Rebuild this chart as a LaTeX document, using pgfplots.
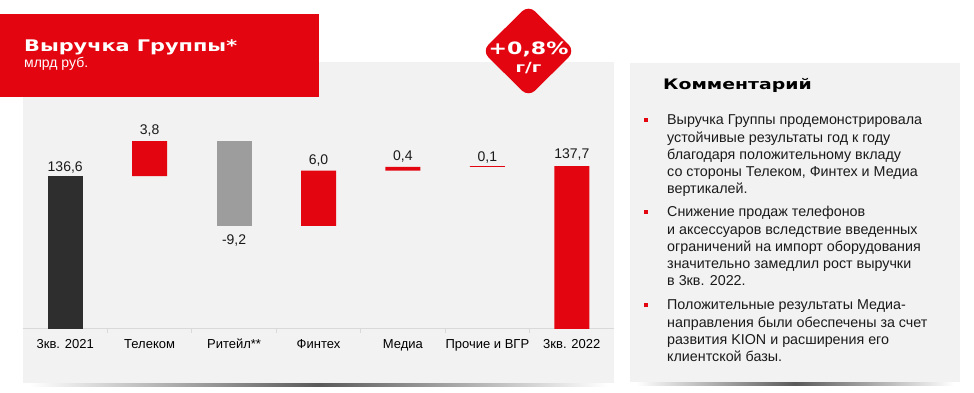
\documentclass[border=0pt]{standalone}
\usepackage{pgfplots}
\pgfplotsset{compat=1.18}
\usepackage{fontspec}
\setmainfont{Liberation Sans}
\newfontfamily\widefont[FakeStretch=1.3]{DejaVu Sans}
\definecolor{mtsred}{HTML}{E30611}
\definecolor{barDark}{HTML}{2E2E2E}
\definecolor{barGray}{HTML}{9D9D9D}
\definecolor{panel}{HTML}{F2F2F2}
\definecolor{txt}{HTML}{1A1A1A}
\definecolor{axisline}{HTML}{D9D9D9}
\newcommand{\bodyfont}{\fontsize{14.3}{17}\selectfont}
% one line of the comment, y given as image row of its baseline
\newcommand{\cl}[2]{\node[anchor=base west, inner sep=0pt, font=\bodyfont, text=txt] at (667,{393-#1}) {#2};}
\newcommand{\bul}[1]{\fill[mtsred] (644,{393-#1+3}) rectangle (648,{393-#1+7});}

\begin{document}
\begin{tikzpicture}[x=1pt,y=1pt]
\useasboundingbox (0,0) rectangle (974,393);

% panels with soft shadows
\shade[left color=white, right color=white, middle color=black!65] (30,6) rectangle (607,10);
\fill[panel] (23,10) rectangle (614,331);
\shade[left color=white, right color=white, middle color=black!65] (636,7) rectangle (954,11);
\fill[panel] (630,11) rectangle (960,330);

% title block
\fill[mtsred] (0,296) rectangle (319,379);
\node[anchor=base west, inner sep=0pt, text=white, font=\widefont\bfseries\fontsize{16}{20}\selectfont] at (24,341) {Выручка Группы*};
\node[anchor=base west, inner sep=0pt, text=white, font=\fontsize{14}{15}\selectfont] at (24,325) {млрд руб.};

% badge
\fill[mtsred, rounded corners=9pt] (482,342) -- (528.5,388) -- (575,342) -- (528.5,296) -- cycle;
\node[anchor=base, inner sep=0pt, text=white, font=\widefont\bfseries\fontsize{17}{20}\selectfont] at (528.5,338) {+0,8\%};
\node[anchor=base, inner sep=0pt, text=white, font=\widefont\bfseries\fontsize{14}{16}\selectfont] at (528.5,320) {г/г};

\begin{axis}[
  at={(23pt,64pt)}, anchor=south west,
  scale only axis, width=591pt, height=267pt,
  xmin=-0.5, xmax=6.5, ymin=120, ymax=149,
  ybar stacked, bar width=35pt,
  axis x line=bottom, axis y line=none,
  axis line style={axisline, line width=1pt, -},
  xtick={0,...,6},
  xticklabels={3кв. 2021, Телеком, Ритейл**, Финтех, Медиа, Прочие и ВГР, 3кв. 2022},
  major tick length=0pt,
  minor xtick={0.5,1.5,...,5.5},
  minor tick length=4pt,
  tick align=outside,
  minor tick style={axisline, line width=1pt},
  xticklabel style={font=\fontsize{13}{15}\selectfont, text=black, anchor=base, yshift=-20pt},
]
% invisible base of the floating bars
\addplot[draw=none, fill=none] coordinates {(0,0) (1,136.6) (2,131.2) (3,131.2) (4,137.2) (5,137.6) (6,0)};
\addplot[draw=none, fill=barDark] coordinates {(0,136.6) (1,0) (2,0) (3,0) (4,0) (5,0) (6,0)};
\addplot[draw=none, fill=barGray] coordinates {(0,0) (1,0) (2,9.2) (3,0) (4,0) (5,0) (6,0)};
\addplot[draw=none, fill=mtsred] coordinates {(0,0) (1,3.8) (2,0) (3,6.0) (4,0.4) (5,0.1) (6,137.7)};

\node[anchor=base, inner sep=0pt, font=\fontsize{14}{16}\selectfont, text=txt, yshift=5pt] at (axis cs:0,136.6) {136,6};
\node[anchor=base, inner sep=0pt, font=\fontsize{14}{16}\selectfont, text=txt, yshift=7pt] at (axis cs:1,140.4) {3,8};
\node[anchor=base, inner sep=0pt, font=\fontsize{14}{16}\selectfont, text=txt, yshift=-19pt] at (axis cs:2,131.2) {-9,2};
\node[anchor=base, inner sep=0pt, font=\fontsize{14}{16}\selectfont, text=txt, yshift=6pt] at (axis cs:3,137.2) {6,0};
\node[anchor=base, inner sep=0pt, font=\fontsize{14}{16}\selectfont, text=txt, yshift=6pt] at (axis cs:4,137.6) {0,4};
\node[anchor=base, inner sep=0pt, font=\fontsize{14}{16}\selectfont, text=txt, yshift=5pt] at (axis cs:5,137.7) {0,1};
\node[anchor=base, inner sep=0pt, font=\fontsize{14}{16}\selectfont, text=txt, yshift=8pt] at (axis cs:6,137.7) {137,7};
\end{axis}

% comment panel
\node[anchor=base west, inner sep=0pt, text=black, font=\widefont\bfseries\fontsize{14.5}{16}\selectfont] at (663,303) {Комментарий};

\bul{125}
\cl{125}{Выручка Группы продемонстрировала}
\cl{142.2}{устойчивые результаты год к году}
\cl{159.4}{благодаря положительному вкладу}
\cl{176.6}{со стороны Телеком, Финтех и Медиа}
\cl{193.8}{вертикалей.}

\bul{217}
\cl{217}{Снижение продаж телефонов}
\cl{234.2}{и аксессуаров вследствие введенных}
\cl{251.4}{ограничений на импорт оборудования}
\cl{268.6}{значительно замедлил рост выручки}
\cl{285.8}{в 3кв. 2022.}

\bul{310}
\cl{310}{Положительные результаты Медиа-}
\cl{327.2}{направления были обеспечены за счет}
\cl{344.4}{развития KION и расширения его}
\cl{361.6}{клиентской базы.}
\end{tikzpicture}
\end{document}
